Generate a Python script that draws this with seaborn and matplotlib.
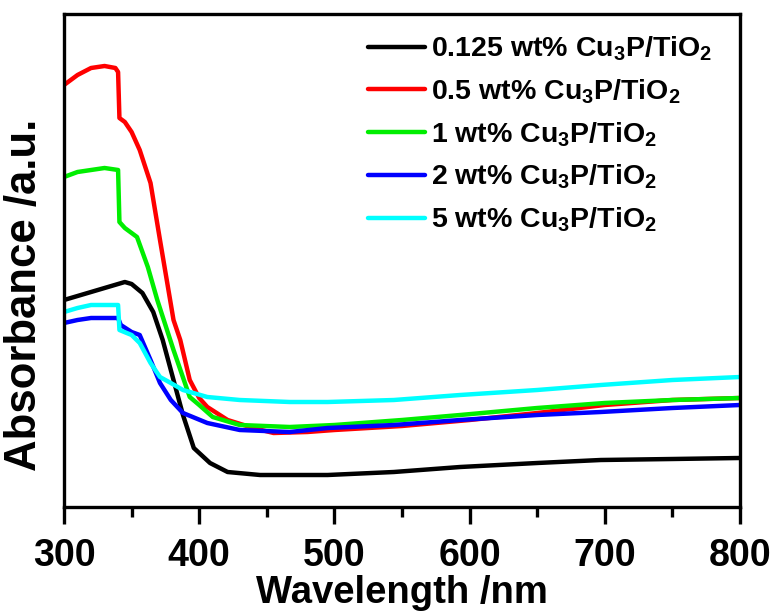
import numpy as np
import pandas as pd
import matplotlib
matplotlib.use('Agg')
import matplotlib.pyplot as plt
import seaborn as sns
from matplotlib.ticker import MultipleLocator

# ---- data (absorbance, arbitrary units) ----
labels = ['0.125 wt% Cu$_3$P/TiO$_2$', '0.5 wt% Cu$_3$P/TiO$_2$',
          '1 wt% Cu$_3$P/TiO$_2$', '2 wt% Cu$_3$P/TiO$_2$',
          '5 wt% Cu$_3$P/TiO$_2$']
colors = ['#000000', '#FF0000', '#00EE00', '#0000FF', '#00FFFF']

wl_0125 = [300, 310, 320, 330, 340, 345, 350, 358, 366, 373, 381, 388, 396, 408,
           421, 445, 495, 544, 593, 650, 697, 750, 800]
ab_0125 = [2.07, 2.11, 2.15, 2.19, 2.23, 2.25, 2.23, 2.14, 1.95, 1.67, 1.27, 0.92,
           0.59, 0.44, 0.35, 0.32, 0.32, 0.35, 0.40, 0.44, 0.47, 0.48, 0.49]

wl_05 = [300, 305, 310, 320, 330, 338, 340, 341, 345, 350, 356, 364, 371, 381, 386,
         393, 400, 406, 421, 440, 455, 480, 500, 550, 600, 650, 700, 750, 800]
ab_05 = [4.22, 4.27, 4.32, 4.39, 4.41, 4.39, 4.35, 3.89, 3.85, 3.75, 3.57, 3.24,
         2.67, 1.87, 1.67, 1.27, 1.09, 1.00, 0.87, 0.79, 0.74, 0.75, 0.77, 0.81,
         0.87, 0.94, 1.02, 1.07, 1.09]

wl_1 = [300, 310, 320, 330, 340, 341, 345, 354, 362, 369, 375, 381, 393, 400, 410,
        430, 467, 500, 550, 593, 650, 700, 750, 800]
ab_1 = [3.30, 3.35, 3.37, 3.39, 3.37, 2.85, 2.79, 2.70, 2.40, 2.07, 1.82, 1.57,
        1.10, 1.02, 0.90, 0.82, 0.80, 0.82, 0.87, 0.92, 0.99, 1.04, 1.07, 1.09]

wl_2 = [300, 310, 320, 330, 340, 342, 350, 356, 364, 371, 379, 388, 406, 430, 467,
        495, 544, 593, 650, 697, 750, 800]
ab_2 = [1.84, 1.87, 1.89, 1.89, 1.89, 1.82, 1.75, 1.72, 1.47, 1.24, 1.07, 0.94,
        0.84, 0.77, 0.75, 0.79, 0.82, 0.87, 0.92, 0.95, 0.99, 1.02]

wl_5 = [300, 310, 320, 330, 340, 341, 350, 356, 364, 371, 379, 388, 406, 430, 467,
        495, 544, 593, 650, 697, 750, 800]
ab_5 = [1.95, 1.99, 2.02, 2.02, 2.02, 1.77, 1.72, 1.64, 1.44, 1.30, 1.24, 1.17,
        1.10, 1.07, 1.05, 1.05, 1.07, 1.12, 1.17, 1.22, 1.27, 1.30]

x_ticks = [300, 400, 500, 600, 700, 800]

series = [(wl_0125, ab_0125), (wl_05, ab_05), (wl_1, ab_1), (wl_2, ab_2), (wl_5, ab_5)]
frames = []
for lab, (w, a) in zip(labels, series):
    frames.append(pd.DataFrame({'Wavelength': w, 'Absorbance': a, 'Sample': lab}))
df = pd.concat(frames, ignore_index=True)

# ---- style ----
sns.set_theme(style='ticks')
plt.rcParams['font.family'] = ['Liberation Sans', 'DejaVu Sans']
plt.rcParams['font.weight'] = 'bold'
plt.rcParams['text.color'] = 'black'
plt.rcParams['axes.labelcolor'] = 'black'
plt.rcParams['mathtext.fontset'] = 'custom'
plt.rcParams['mathtext.rm'] = 'Liberation Sans:bold'
plt.rcParams['mathtext.bf'] = 'Liberation Sans:bold'
plt.rcParams['mathtext.it'] = 'Liberation Sans:bold'
plt.rcParams['mathtext.default'] = 'rm'

fig = plt.figure(figsize=(7.76, 6.12), dpi=100)
ax = fig.add_axes([64 / 776, 105 / 612, 676 / 776, 493 / 612])

sns.lineplot(data=df, x='Wavelength', y='Absorbance', hue='Sample',
             hue_order=labels, palette=dict(zip(labels, colors)),
             linewidth=3.2, sort=False, ax=ax)

ax.set_xlim(300, 800)
ax.set_ylim(0, 4.93)
ax.set_xticks(x_ticks)
ax.set_xticklabels([str(t) for t in x_ticks])
ax.xaxis.set_minor_locator(MultipleLocator(50))
ax.set_yticks([])

for s in ax.spines.values():
    s.set_linewidth(2.4)
    s.set_color('black')

ax.tick_params(axis='x', which='major', direction='out', length=12, width=2.4,
               labelsize=27, pad=10, colors='black')
ax.tick_params(axis='x', which='minor', direction='out', length=7, width=2.4,
               colors='black')
for t in ax.get_xticklabels():
    t.set_fontweight('bold')

ax.set_xlabel('Wavelength /nm', fontsize=27.5, fontweight='bold', labelpad=1, color='black')
ax.set_ylabel('Absorbance /a.u.', fontsize=31.5, fontweight='bold', color='black')
ax.yaxis.set_label_coords(-0.028, 0.43)

handles, _ = ax.get_legend_handles_labels()
leg = ax.legend(handles, labels, loc='upper left', bbox_to_anchor=(0.45, 0.958),
                frameon=False, fontsize=20.5, handlelength=2.0, handletextpad=0.2,
                labelspacing=0.5, borderpad=0, borderaxespad=0)
for h in leg.get_lines():
    h.set_linewidth(3.2)
for t in leg.get_texts():
    t.set_color('black')

fig.savefig('out.png', dpi=100, facecolor='white')
